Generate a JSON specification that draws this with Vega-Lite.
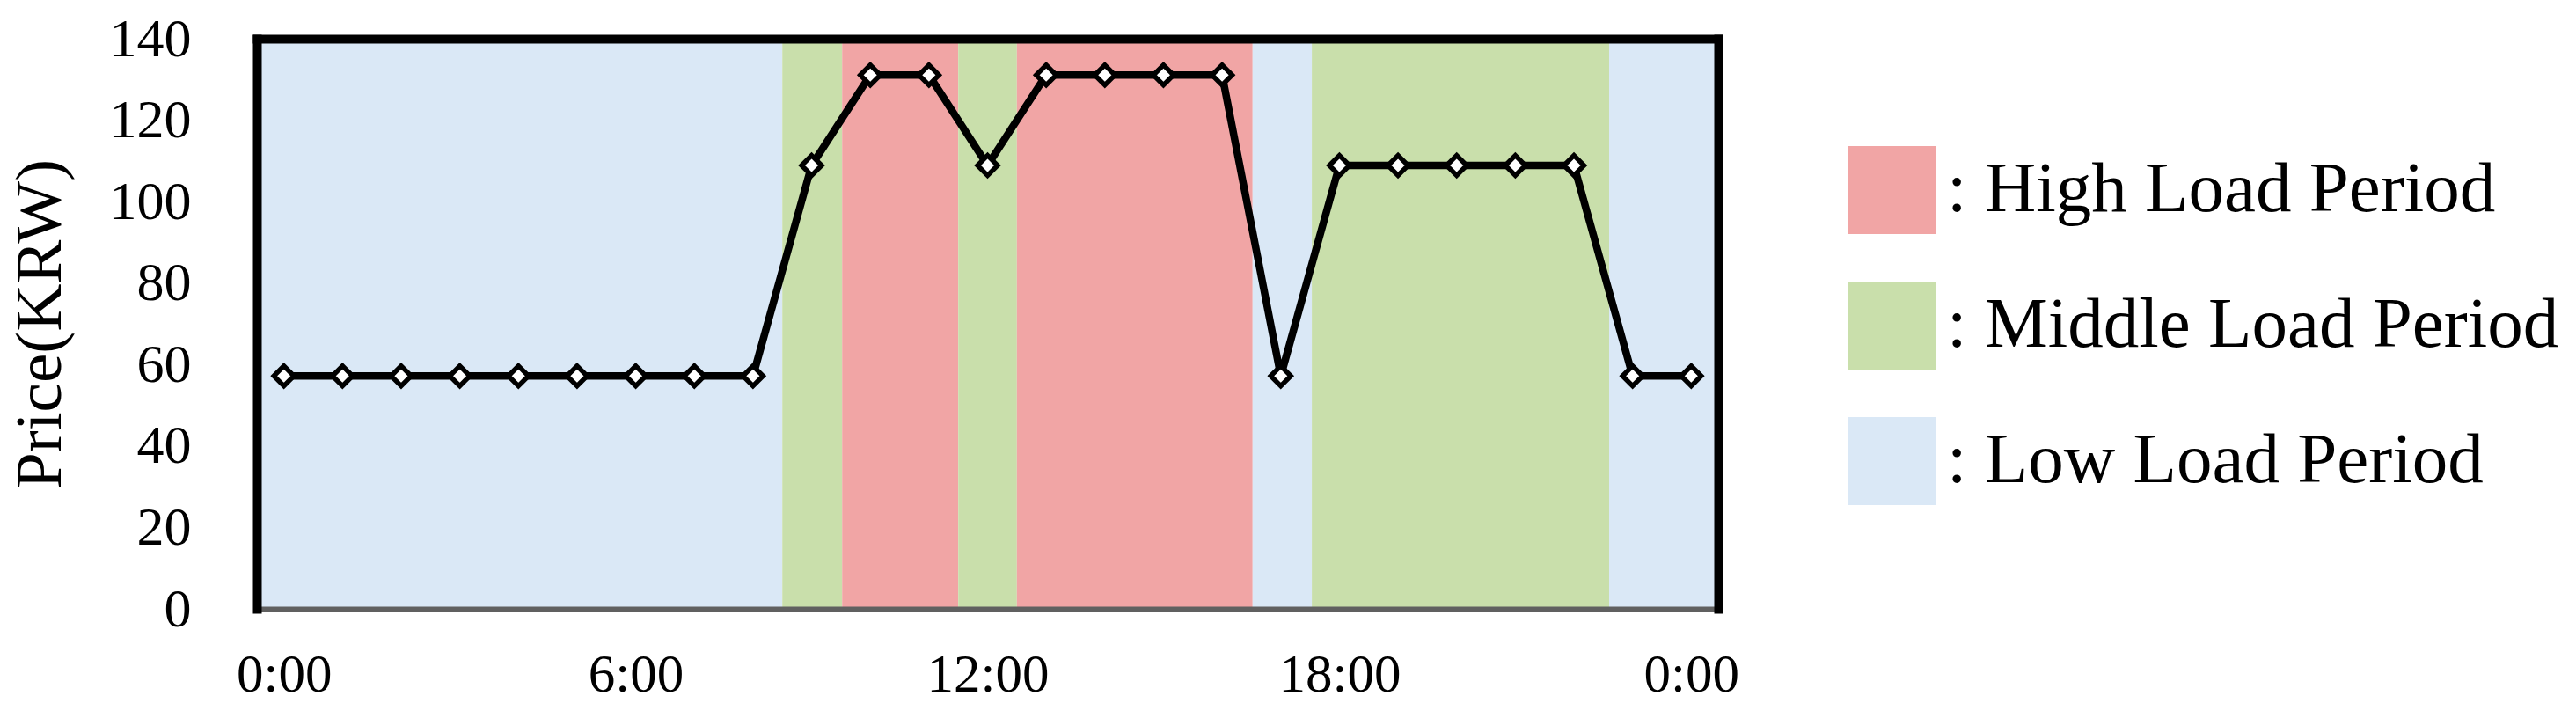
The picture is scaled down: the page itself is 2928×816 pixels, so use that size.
{
  "$schema": "https://vega.github.io/schema/vega-lite/v6.json",
  "width": 1661,
  "height": 648,
  "autosize": {"type": "none"},
  "padding": {"left": 292, "top": 44, "right": 975, "bottom": 124},
  "background": "white",
  "config": {
    "view": {"stroke": null},
    "font": "Liberation Serif"
  },
  "datasets": {
    "bands": [
      {"period": "Low Load Period", "start": -0.46, "end": 8.5},
      {"period": "Middle Load Period", "start": 8.5, "end": 9.52},
      {"period": "High Load Period", "start": 9.52, "end": 11.5},
      {"period": "Middle Load Period", "start": 11.5, "end": 12.5},
      {"period": "High Load Period", "start": 12.5, "end": 16.52},
      {"period": "Low Load Period", "start": 16.52, "end": 17.53},
      {"period": "Middle Load Period", "start": 17.53, "end": 22.6},
      {"period": "Low Load Period", "start": 22.6, "end": 24.46}
    ],
    "prices": [
      {"hour": 0, "price": 57.2},
      {"hour": 1, "price": 57.2},
      {"hour": 2, "price": 57.2},
      {"hour": 3, "price": 57.2},
      {"hour": 4, "price": 57.2},
      {"hour": 5, "price": 57.2},
      {"hour": 6, "price": 57.2},
      {"hour": 7, "price": 57.2},
      {"hour": 8, "price": 57.2},
      {"hour": 9, "price": 108.9},
      {"hour": 10, "price": 131.1},
      {"hour": 11, "price": 131.1},
      {"hour": 12, "price": 108.9},
      {"hour": 13, "price": 131.1},
      {"hour": 14, "price": 131.1},
      {"hour": 15, "price": 131.1},
      {"hour": 16, "price": 131.1},
      {"hour": 17, "price": 57.2},
      {"hour": 18, "price": 108.9},
      {"hour": 19, "price": 108.9},
      {"hour": 20, "price": 108.9},
      {"hour": 21, "price": 108.9},
      {"hour": 22, "price": 108.9},
      {"hour": 23, "price": 57.2},
      {"hour": 24, "price": 57.2}
    ]
  },
  "resolve": {"axis": {"x": "independent", "y": "independent"}},
  "layer": [
    {
      "data": {"name": "bands"},
      "mark": {"type": "rect", "opacity": 1},
      "encoding": {
        "x": {
          "field": "start", "type": "quantitative",
          "scale": {"domain": [-0.46, 24.46], "nice": false, "zero": false},
          "axis": {
            "orient": "bottom", "values": [0, 6, 12, 18, 24],
            "labelExpr": "datum.value == 24 ? '0:00' : datum.value + ':00'",
            "grid": false, "ticks": false, "title": null,
            "domainColor": "#606060", "domainWidth": 6,
            "labelFont": "Liberation Serif", "labelFontSize": 61, "labelColor": "black",
            "labelPadding": 45, "labelFlush": false, "labelOverlap": false, "zindex": 1
          }
        },
        "x2": {"field": "end"},
        "color": {
          "field": "period", "type": "nominal",
          "scale": {
            "domain": ["High Load Period", "Middle Load Period", "Low Load Period"],
            "range": ["#F1A5A5", "#C9DFAB", "#DAE8F6"]
          },
          "legend": {
            "orient": "none", "legendX": 1809, "legendY": 122,
            "title": null,
            "symbolType": "square", "symbolSize": 10000, "symbolStrokeWidth": 0, "symbolOpacity": 1,
            "labelFont": "Liberation Serif", "labelFontSize": 81, "labelColor": "black",
            "labelLimit": 2000, "labelOffset": 12, "rowPadding": 54,
            "labelExpr": "': ' + datum.label"
          }
        },
        "y": {
          "datum": 0, "type": "quantitative",
          "scale": {"domain": [0, 140], "nice": false, "zero": true},
          "axis": {
            "orient": "left", "values": [0, 20, 40, 60, 80, 100, 120, 140],
            "grid": false, "ticks": false,
            "title": "Price(KRW)", "titleFont": "Liberation Serif", "titleFontSize": 75,
            "titleFontWeight": "normal", "titleColor": "black", "titlePadding": 40,
            "domainColor": "black", "domainWidth": 10, "domainCap": "square",
            "labelFont": "Liberation Serif", "labelFontSize": 62, "labelColor": "black",
            "labelPadding": 75, "labelFlush": false, "labelOverlap": false, "zindex": 1
          }
        },
        "y2": {"datum": 140}
      }
    },
    {
      "data": {"name": "prices"},
      "mark": {"type": "line", "color": "black", "strokeWidth": 8.5},
      "encoding": {
        "x": {
          "field": "hour", "type": "quantitative",
          "scale": {"domain": [-0.46, 24.46], "nice": false, "zero": false},
          "axis": {
            "orient": "top", "labels": false, "ticks": false, "grid": false, "title": null,
            "domainColor": "black", "domainWidth": 10, "domainCap": "square", "zindex": 1
          }
        },
        "y": {
          "field": "price", "type": "quantitative",
          "scale": {"domain": [0, 140], "nice": false, "zero": true},
          "axis": {
            "orient": "right", "labels": false, "ticks": false, "grid": false, "title": null,
            "domainColor": "black", "domainWidth": 10, "domainCap": "square", "zindex": 1
          }
        }
      }
    },
    {
      "data": {"name": "prices"},
      "mark": {"type": "point", "shape": "diamond", "filled": true, "fill": "white", "stroke": "black", "strokeWidth": 5.5, "size": 520, "opacity": 1},
      "encoding": {
        "x": {"field": "hour", "type": "quantitative", "scale": {"domain": [-0.46, 24.46], "nice": false, "zero": false}, "axis": null},
        "y": {"field": "price", "type": "quantitative", "scale": {"domain": [0, 140], "nice": false, "zero": true}, "axis": null}
      }
    }
  ]
}
